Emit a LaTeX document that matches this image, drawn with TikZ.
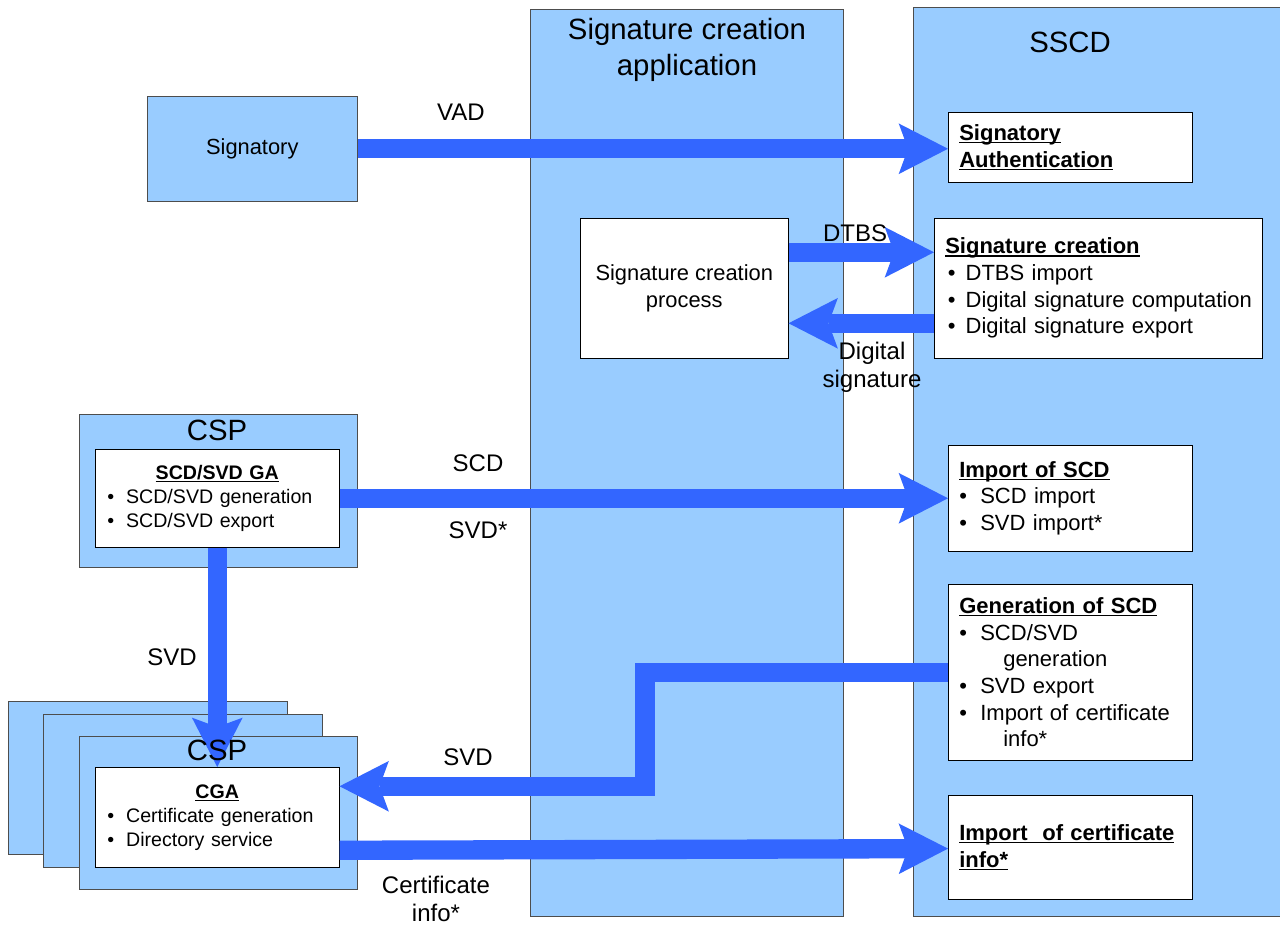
\documentclass[tikz,border=0pt]{standalone}
\usepackage{fontspec}
\setmainfont{Liberation Sans}
\usetikzlibrary{arrows.meta,positioning}
\definecolor{paleblue}{HTML}{99CCFF}
\definecolor{flowblue}{HTML}{3366FF}
\definecolor{edgegray}{HTML}{4D4D4D}
\newcommand{\pointitem}[1]{\textbullet\hspace{10pt}#1}
\newcommand{\sigitem}[1]{\mbox{\hspace*{2pt}\textbullet\hspace{7.5pt}#1}}
\newcommand{\cspitem}[1]{\makebox[165pt][l]{\textbullet\hspace{9pt}#1}}
\newsavebox{\linedbox}
\newcommand{\boxline}[1]{\sbox{\linedbox}{#1}\rlap{\rule[-2.2pt]{\wd\linedbox}{1.1pt}}\usebox{\linedbox}}
\tikzset{
  column/.style={draw=edgegray,fill=paleblue,anchor=north west,inner sep=0pt},
  part/.style={draw=black,fill=white,anchor=north west,inner ysep=0pt},
  rightpart/.style={part,align=left,inner xsep=8.25pt,text width=166.5pt,font=\fontsize{16.5}{20}\selectfont},
  csppart/.style={part,align=center,inner xsep=9pt,text width=165pt,minimum height=75pt,font=\fontsize{14.7}{18}\selectfont},
  flow/.style={draw=flowblue,line width=14.5pt,-{Stealth[length=37pt,width=38pt,inset=7pt,line width=0pt]}},
  lbl/.style={align=center,inner sep=1pt,font=\fontsize{18}{21}\selectfont},
  heading/.style={align=center,font=\fontsize{22}{26.5}\selectfont},
}
\begin{document}
\begin{tikzpicture}[x=0.75pt,y=-0.75pt]
\useasboundingbox (0,0) rectangle (1280,925);

% columns
\node[column,minimum width=234.75pt,minimum height=680.25pt] (SCA) at (530,9) {};
\node[column,minimum width=276.75pt,minimum height=681.75pt] (SSCD) at (913,7) {};

% CSP frames
\node[column,minimum width=208.5pt,minimum height=114.75pt] (CSPtop) at (79,414) {};
\node[column,minimum width=209.25pt,minimum height=114.75pt] (CSPback) at (8,701) {};
\node[column,minimum width=209.25pt,minimum height=114.75pt] (CSPmid) at (43,714) {};
\node[column,minimum width=208.5pt,minimum height=114.75pt] (CSPfront) at (79,736) {};

% boxes
\node[column,draw=edgegray,minimum width=157.5pt,minimum height=78.75pt,align=center,font=\fontsize{16.4}{20}\selectfont] (Signatory) at (147,96) {Signatory};
\node[rightpart,minimum height=52.5pt] (SigAuth) at (948,112)
  {\textbf{\boxline{Signatory}}\\\textbf{\boxline{Authentication}}};
\node[part,minimum width=156pt,minimum height=105pt,align=center,font=\fontsize{16.4}{20}\selectfont] (SCProc) at (580,218)
  {Signature creation\\process};
\node[rightpart,text width=229.5pt,minimum height=105pt] (SigCreate) at (934,218)
  {\textbf{\boxline{Signature creation}}\\
   \sigitem{DTBS import}\\
   \sigitem{Digital signature computation}\\
   \sigitem{Digital signature export}};
\node[csppart,minimum height=73.5pt] (GA) at (95,449)
  {\textbf{\boxline{SCD/SVD GA}}\\
   \cspitem{SCD/SVD generation}\\
   \cspitem{SCD/SVD export}};
\node[rightpart,minimum height=79.5pt] (ImportSCD) at (948,445)
  {\textbf{\boxline{Import of SCD}}\\
   \pointitem{SCD import}\\
   \pointitem{SVD import*}};
\node[rightpart,minimum height=132pt] (GenSCD) at (948,584)
  {\textbf{\boxline{Generation of SCD}}\\
   \pointitem{SCD/SVD}\\
   \hspace*{33pt}generation\\
   \pointitem{SVD export}\\
   \pointitem{Import of certificate}\\
   \hspace*{33pt}info*};
\node[rightpart,minimum height=78pt] (ImportCert) at (948,795)
  {\textbf{\boxline{Import\ \ of certificate}}\\\textbf{\boxline{info*}}};
\node[csppart] (CGA) at (95,767)
  {\textbf{\boxline{CGA}}\\
   \cspitem{Certificate generation}\\
   \cspitem{Directory service}};

% flows
\draw[flow] (Signatory.east) -- (SigAuth.west |- Signatory.east);
\draw[flow] ([yshift=27pt]SCProc.east) -- ([yshift=27pt]SigCreate.west);
\draw[flow] ([yshift=-26.25pt]SigCreate.west) -- ([yshift=-26.25pt]SCProc.east);
\draw[flow] (GA.east) -- (ImportSCD.west);
\draw[flow] (GA.south) -- (CGA.north);
\draw[flow,line join=miter] (GenSCD.west) -- ++(-303,0) |- ([yshift=23.25pt]CGA.east);
\draw[flow] ([yshift=-24.75pt]CGA.east) -- ([yshift=-1pt]ImportCert.west);

% labels
\node[lbl] (vad) at (461,112) {VAD};
\node[lbl] (dtbs) at (855,233) {DTBS};
\node[lbl] (digsig) at (872,367) {Digital\\signature};
\node[lbl] (scd) at (478,463) {SCD};
\node[lbl] (svdstar) at (478,530) {SVD*};
\node[lbl] (svddown) at (172,657) {SVD};
\node[lbl] (svdback) at (468,757) {SVD};
\node[lbl] (certinfo) at (436,899) {Certificate\\info*};

% headings
\node[heading] (scatitle) at (687,50) {Signature creation\\application};
\node[heading] (sscdtitle) at (1070,42) {SSCD};
\node[heading] (csptitle) at (217,430) {CSP};
\node[heading] (cspfronttitle) at (217,750) {CSP};
\end{tikzpicture}
\end{document}
